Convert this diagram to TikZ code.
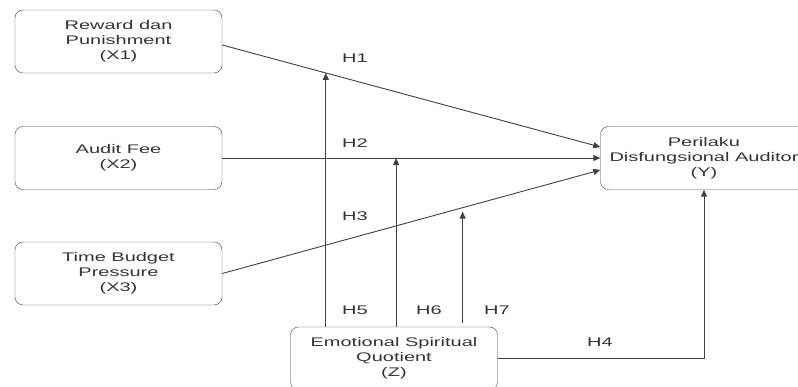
\documentclass[tikz,border=0pt]{standalone}
\usepackage{fontspec}
\setmainfont{Liberation Sans}[FakeStretch=1.6]
\usetikzlibrary{arrows.meta}

\tikzset{
    varbox/.style={draw=black!75, rounded corners=8pt, minimum width=207pt, minimum height=63pt,
        align=center, font=\fontsize{12.5}{15}\selectfont, text=black!80},
    hlabel/.style={font=\fontsize{12.5}{15}\selectfont, text=black!80},
    link/.style={draw=black!75, line width=0.9pt, -{Triangle[length=7pt,width=6pt]}}
}

\begin{document}
\begin{tikzpicture}[x=1pt, y=-1pt]
            \path [use as bounding box, clip] (0, 0) rectangle (798, 387);
            \node [varbox] (x1) at (118.5, 41.5) {Reward dan\\Punishment\\(X1)};
            \node [varbox] (x2) at (118.5, 158) {Audit Fee\\(X2)};
            \node [varbox] (x3) at (118.5, 273.5) {Time Budget\\Pressure\\(X3)};
            \node [varbox] (y) at (704, 158) {Perilaku\\Disfungsional Auditor\\(Y)};
            \node [varbox] (z) at (394, 358.5) {Emotional Spiritual\\Quotient\\(Z)};
            % direct paths
            \draw [link] ([yshift=-3.5pt]x1.east) -- coordinate [pos=0.274] (m1) ([yshift=11pt]y.west);
            \draw [link] (x2.east) -- coordinate [pos=0.46] (m2) (y.west);
            \draw [link] (x3.east) -- coordinate [pos=0.636] (m3) ([yshift=-12pt]y.west);
            \draw [link] (z.east) -| (y.south);
            % moderation
            \draw [link] (z.north -| m1) -- (m1);
            \draw [link] (z.north -| m2) -- (m2);
            \draw [link] ([yshift=4pt]z.north -| m3) -- ([yshift=-4pt]m3);
            \node [hlabel] (h1) at (355, 58) {H1};
            \node [hlabel] (h2) at (355, 143) {H2};
            \node [hlabel] (h3) at (355, 216) {H3};
            \node [hlabel] (h4) at (600, 342) {H4};
            \node [hlabel] (h5) at (355, 310) {H5};
            \node [hlabel] (h6) at (429, 310) {H6};
            \node [hlabel] (h7) at (497, 310) {H7};
        \end{tikzpicture}
\end{document}
